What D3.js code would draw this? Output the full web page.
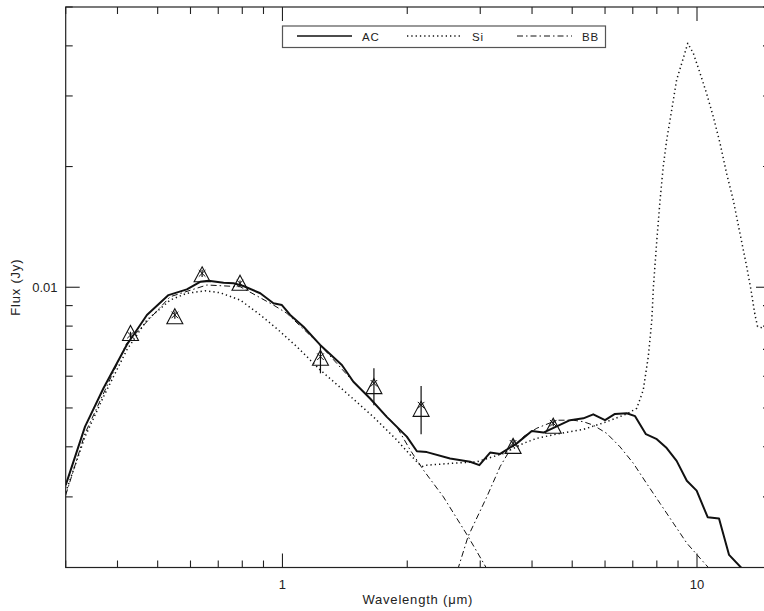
<!DOCTYPE html>
<html>
<head>
<meta charset="utf-8">
<script src="https://cdn.jsdelivr.net/npm/d3@7"></script>
<style>
  body { margin: 0; background: white; }
  svg { display: block; }
  text { font-family: "Liberation Sans", Arial, Helvetica, sans-serif; fill: #222; }
</style>
</head>
<body>
<div id="chart"></div>
<script>
// photometry: band wavelengths (um), model (triangles), observed (crosses) and error bars
const bandWave = [0.43, 0.55, 0.64, 0.79, 1.235, 1.662, 2.16, 3.6, 4.5];
const modelFlux = [0.00767, 0.00844, 0.01074, 0.01023, 0.00665, 0.00565, 0.00496, 0.00401, 0.00450];
const obsFlux = [0.00760, 0.00853, 0.01083, 0.01023, 0.00671, 0.00576, 0.00508, 0.00408, 0.00458];
const errLow = [0.00745, 0.00835, 0.01060, 0.01005, 0.00610, 0.00508, 0.00430, 0.00400, 0.00450];
const errHigh = [0.00775, 0.00870, 0.01105, 0.01040, 0.00718, 0.00628, 0.00567, 0.00416, 0.00466];

// amorphous carbon model
const acWave = [0.300, 0.334, 0.370, 0.421, 0.471, 0.531, 0.588, 0.633, 0.663, 0.721, 0.762, 0.805, 0.884, 0.951, 0.997,
  1.044, 1.124, 1.233, 1.391, 1.483, 1.627, 1.785, 1.995, 2.110, 2.23, 2.537, 2.836, 2.985, 3.169, 3.35, 3.675, 3.995,
  4.26, 4.94, 5.32, 5.62, 6.00, 6.34, 6.77, 7.09, 7.53, 8.00, 8.45, 8.93, 9.45, 9.98, 10.61, 11.3, 11.95, 12.77, 13.4];
const acFlux = [0.00321, 0.00449, 0.00560, 0.00718, 0.00853, 0.00956, 0.00988, 0.01032, 0.01038, 0.01026, 0.01023, 0.01007, 0.00966, 0.00912, 0.00903,
  0.00853, 0.00797, 0.00718, 0.00640, 0.00581, 0.00528, 0.00475, 0.00424, 0.00390, 0.00388, 0.00374, 0.00367, 0.00360, 0.00387, 0.00384, 0.00408, 0.00438,
  0.00434, 0.00466, 0.00471, 0.00482, 0.00466, 0.00483, 0.00485, 0.00477, 0.00430, 0.00418, 0.00397, 0.00369, 0.00329, 0.00311, 0.00267, 0.00265, 0.00215, 0.00200, 0.00188];

// silicate model
const siWave = [0.300, 0.334, 0.370, 0.421, 0.471, 0.536, 0.588, 0.651, 0.707, 0.791, 0.884, 0.978, 1.083, 1.233, 1.430,
  1.657, 1.887, 2.032, 2.168, 2.23, 2.584, 2.943, 3.412, 3.812, 4.107, 4.674, 5.32, 6.057, 6.77, 7.155, 7.42, 7.63, 7.78,
  7.85, 8.00, 8.145, 8.29, 8.45, 8.69, 8.93, 9.24, 9.50, 9.80, 10.17, 10.55, 10.95, 11.36, 11.79, 12.23, 12.70, 13.18,
  13.50, 13.80, 14.0, 14.5, 15.0];
const siFlux = [0.00308, 0.00424, 0.00533, 0.00697, 0.00828, 0.00929, 0.00966, 0.00980, 0.00969, 0.00929, 0.00853, 0.00782, 0.00711, 0.00622, 0.00544,
  0.00475, 0.00416, 0.00382, 0.00357, 0.00360, 0.00364, 0.00367, 0.00385, 0.00408, 0.00420, 0.00432, 0.00442, 0.00462, 0.00483, 0.00499, 0.00554, 0.00671, 0.00828,
  0.01003, 0.01311, 0.0165, 0.0200, 0.0233, 0.0277, 0.0329, 0.0369, 0.0406, 0.0383, 0.0342, 0.0304, 0.0266, 0.0229, 0.0192, 0.0165, 0.0136, 0.01125,
  0.00984, 0.00853, 0.00798, 0.00790, 0.00790];

// black bodies: stellar photosphere and warm dust
const bbStarWave = [0.300, 0.334, 0.421, 0.536, 0.657, 0.791, 0.951, 1.025, 1.233, 1.483, 1.752, 1.887, 2.032, 2.188, 2.445, 2.804, 3.099, 3.3];
const bbStarFlux = [0.00303, 0.00432, 0.00725, 0.00947, 0.01013, 0.01003, 0.00903, 0.00861, 0.00718, 0.00581, 0.00486, 0.00449, 0.00393, 0.00350, 0.00300, 0.00239, 0.00200, 0.00175];
const bbDustWave = [2.55, 2.657, 2.804, 3.111, 3.35, 3.54, 3.812, 4.107, 4.589, 5.03, 5.32, 5.62, 6.057, 6.52, 7.02, 7.56, 8.145, 8.77, 9.45, 10.17, 10.65, 11.0];
const bbDustFlux = [0.0017, 0.00200, 0.00239, 0.00300, 0.00357, 0.00393, 0.00424, 0.00445, 0.00466, 0.00466, 0.00462, 0.00453, 0.00432, 0.00400, 0.00364, 0.00324, 0.00289, 0.00258, 0.00230, 0.00211, 0.00200, 0.0019];

const legendLabels = ["AC", "Si", "BB"];
const xTickLabels = [1, 10];
const yTickLabels = [0.01];

const width = 764, height = 611;
const margins = { left: 65.7, right: 770, top: 7, bottom: 567.5 };

const svg = d3.select("#chart").append("svg")
  .attr("width", width)
  .attr("height", height);

const x = d3.scaleLog().domain([0.3, 15]).range([margins.left, margins.right]);
const y = d3.scaleLog().domain([0.002, 0.05]).range([margins.bottom, margins.top]);

svg.append("clipPath").attr("id", "plotClip")
  .append("rect")
  .attr("x", margins.left).attr("y", margins.top)
  .attr("width", margins.right - margins.left)
  .attr("height", margins.bottom - margins.top);

const plot = svg.append("g").attr("clip-path", "url(#plotClip)");

const line = d3.line()
  .x(d => x(d[0]))
  .y(d => y(d[1]));

const styles = {
  AC: { width: 2, dash: null },
  Si: { width: 1.5, dash: "1.3,3" },
  BB: { width: 1, dash: "6,3,1.5,3" }
};

function drawCurve(wave, flux, style) {
  plot.append("path")
    .datum(d3.zip(wave, flux))
    .attr("d", line)
    .attr("fill", "none")
    .attr("stroke", "#111")
    .attr("stroke-width", style.width)
    .attr("stroke-dasharray", style.dash)
    .attr("stroke-linejoin", "round");
}

drawCurve(bbStarWave, bbStarFlux, styles.BB);
drawCurve(bbDustWave, bbDustFlux, styles.BB);
drawCurve(siWave, siFlux, styles.Si);
drawCurve(acWave, acFlux, styles.AC);

// error bars
plot.selectAll("line.err")
  .data(bandWave)
  .join("line")
  .attr("class", "err")
  .attr("x1", d => x(d)).attr("x2", d => x(d))
  .attr("y1", (d, i) => y(errLow[i]))
  .attr("y2", (d, i) => y(errHigh[i]))
  .attr("stroke", "#111")
  .attr("stroke-width", 1.2);

// model photometry as open triangles
const tri = "M0,-8L8,7L-8,7Z";
plot.selectAll("path.tri")
  .data(bandWave)
  .join("path")
  .attr("class", "tri")
  .attr("transform", (d, i) => `translate(${x(d)},${y(modelFlux[i])})`)
  .attr("d", tri)
  .attr("fill", "none")
  .attr("stroke", "#111")
  .attr("stroke-width", 1.1);

// observed photometry as crosses
const cross = "M-3.3,-3.3L3.3,3.3M-3.3,3.3L3.3,-3.3";
plot.selectAll("path.obs")
  .data(bandWave)
  .join("path")
  .attr("class", "obs")
  .attr("transform", (d, i) => `translate(${x(d)},${y(obsFlux[i])})`)
  .attr("d", cross)
  .attr("fill", "none")
  .attr("stroke", "#111")
  .attr("stroke-width", 1);

// frame
svg.append("rect")
  .attr("x", margins.left).attr("y", margins.top)
  .attr("width", margins.right - margins.left)
  .attr("height", margins.bottom - margins.top)
  .attr("fill", "none")
  .attr("stroke", "#222")
  .attr("stroke-width", 1.2);

const isMajor = v => Math.abs(Math.log10(v) - Math.round(Math.log10(v))) < 1e-6;

// x ticks on bottom and top
const xt = x.ticks().filter(v => v >= 0.3 && v <= 15);
const axes = svg.append("g").attr("stroke", "#222").attr("stroke-width", 1.1);
xt.forEach(v => {
  const len = isMajor(v) ? 14 : 7;
  axes.append("line").attr("x1", x(v)).attr("x2", x(v))
    .attr("y1", margins.bottom).attr("y2", margins.bottom - len);
  axes.append("line").attr("x1", x(v)).attr("x2", x(v))
    .attr("y1", margins.top).attr("y2", margins.top + len);
});

// y ticks on left and right
const yt = y.ticks().filter(v => v > 0.002 && v <= 0.05);
yt.forEach(v => {
  const len = isMajor(v) ? 14 : 7;
  axes.append("line").attr("x1", margins.left).attr("x2", margins.left + len)
    .attr("y1", y(v)).attr("y2", y(v));
  axes.append("line").attr("x1", margins.right).attr("x2", margins.right - len)
    .attr("y1", y(v)).attr("y2", y(v));
});

svg.selectAll("text.xtick")
  .data(xTickLabels)
  .join("text")
  .attr("class", "xtick")
  .attr("x", d => x(d))
  .attr("y", 588.5)
  .attr("text-anchor", "middle")
  .attr("font-size", 13)
  .text(d => d);

svg.selectAll("text.ytick")
  .data(yTickLabels)
  .join("text")
  .attr("class", "ytick")
  .attr("x", 57.5)
  .attr("y", d => y(d) + 4.7)
  .attr("text-anchor", "end")
  .attr("font-size", 13)
  .text(d => d);

svg.append("text")
  .attr("x", (margins.left + margins.right) / 2)
  .attr("y", 604)
  .attr("text-anchor", "middle")
  .attr("font-size", 13)
  .attr("letter-spacing", 0.8)
  .text("Wavelength (\u03bcm)");

svg.append("text")
  .attr("transform", `translate(20,${y(0.01)}) rotate(-90)`)
  .attr("text-anchor", "middle")
  .attr("font-size", 13)
  .attr("letter-spacing", 0.8)
  .text("Flux (Jy)");

// legend
const legend = svg.append("g");
legend.append("rect")
  .attr("x", 282.5).attr("y", 26)
  .attr("width", 323).attr("height", 21.5)
  .attr("fill", "white")
  .attr("stroke", "#555")
  .attr("stroke-width", 1.2);

legendLabels.forEach((name, i) => {
  const x0 = 297 + i * 110;
  const s = styles[name];
  legend.append("line")
    .attr("x1", x0).attr("x2", x0 + 55)
    .attr("y1", 36).attr("y2", 36)
    .attr("stroke", "#111")
    .attr("stroke-width", name === "AC" ? 1.3 : s.width)
    .attr("stroke-dasharray", s.dash);
  legend.append("text")
    .attr("x", x0 + 65)
    .attr("y", 41)
    .attr("font-size", 11.5)
    .attr("letter-spacing", 0.8)
    .text(name);
});
</script>
</body>
</html>
